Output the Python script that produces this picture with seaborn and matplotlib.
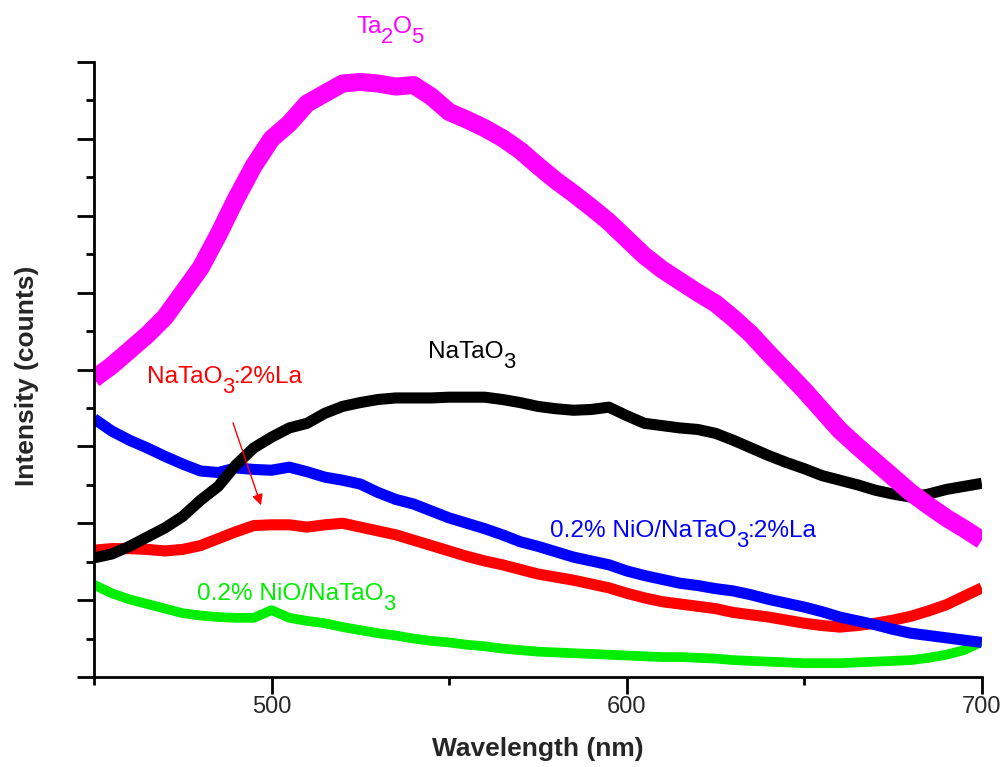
import numpy as np
import pandas as pd
import matplotlib
matplotlib.use("Agg")
import matplotlib.pyplot as plt
import matplotlib.transforms as mtransforms
import seaborn as sns
from matplotlib.ticker import MultipleLocator

# Photoluminescence spectra (arbitrary intensity units)
wavelength = list(range(450, 701, 5))

ta2o5 = [3.88, 4.05, 4.25, 4.45, 4.68, 5.00, 5.32, 5.75, 6.22, 6.65,
         7.00, 7.20, 7.46, 7.59, 7.72, 7.74, 7.72, 7.68, 7.70, 7.55,
         7.35, 7.25, 7.14, 7.01, 6.85, 6.65, 6.46, 6.29, 6.11, 5.92,
         5.70, 5.48, 5.30, 5.15, 5.00, 4.86, 4.67, 4.46, 4.21, 3.97,
         3.73, 3.47, 3.21, 3.00, 2.80, 2.60, 2.40, 2.23, 2.07, 1.93, 1.78]

natao3 = [1.55, 1.60, 1.70, 1.82, 1.94, 2.09, 2.30, 2.48, 2.76, 2.98,
          3.12, 3.24, 3.30, 3.43, 3.52, 3.57, 3.61, 3.63, 3.63, 3.63,
          3.64, 3.64, 3.64, 3.61, 3.57, 3.52, 3.49, 3.47, 3.48, 3.51,
          3.40, 3.30, 3.27, 3.24, 3.22, 3.17, 3.08, 2.98, 2.88, 2.79,
          2.71, 2.62, 2.56, 2.50, 2.43, 2.38, 2.34, 2.38, 2.44, 2.48, 2.52]

nio_natao3_la = [3.36, 3.20, 3.08, 2.98, 2.87, 2.77, 2.68, 2.66, 2.72, 2.70,
                 2.69, 2.73, 2.67, 2.60, 2.56, 2.51, 2.40, 2.31, 2.25, 2.16,
                 2.07, 2.00, 1.93, 1.85, 1.76, 1.70, 1.63, 1.56, 1.51, 1.46,
                 1.38, 1.32, 1.27, 1.22, 1.19, 1.15, 1.12, 1.07, 1.01, 0.96,
                 0.91, 0.85, 0.78, 0.73, 0.68, 0.62, 0.57, 0.54, 0.51, 0.48, 0.45]

natao3_la = [1.65, 1.67, 1.67, 1.66, 1.64, 1.66, 1.71, 1.80, 1.89, 1.97,
             1.98, 1.98, 1.95, 1.98, 2.00, 1.95, 1.90, 1.85, 1.78, 1.71,
             1.64, 1.57, 1.51, 1.46, 1.40, 1.34, 1.30, 1.26, 1.21, 1.16,
             1.09, 1.03, 0.98, 0.95, 0.92, 0.89, 0.84, 0.81, 0.78, 0.74,
             0.70, 0.67, 0.65, 0.67, 0.70, 0.74, 0.79, 0.86, 0.94, 1.05, 1.16]

nio_natao3 = [1.20, 1.09, 1.01, 0.95, 0.89, 0.83, 0.80, 0.78, 0.77, 0.77,
              0.87, 0.77, 0.73, 0.70, 0.65, 0.61, 0.57, 0.54, 0.50, 0.47,
              0.45, 0.42, 0.40, 0.37, 0.35, 0.33, 0.32, 0.31, 0.30, 0.29,
              0.28, 0.27, 0.26, 0.26, 0.25, 0.24, 0.22, 0.21, 0.20, 0.19,
              0.18, 0.18, 0.18, 0.19, 0.20, 0.21, 0.22, 0.25, 0.29, 0.35, 0.46]

xticks_major = [500, 600, 700]

sns.set_theme(style="ticks")
plt.rcParams["font.family"] = ["Liberation Sans", "DejaVu Sans"]

fig = plt.figure(figsize=(10.07, 7.67), dpi=100)
ax = fig.add_axes([0.0933, 0.1173, 0.8817, 0.8019])

# bottom-to-top drawing order
series = [
    (nio_natao3, "#00ee00", 7),
    (natao3_la, "#ff0000", 8),
    (nio_natao3_la, "#0000ff", 8),
    (natao3, "#000000", 8),
    (ta2o5, "#ff00ff", 13),
]
for values, color, lw in series:
    df = pd.DataFrame({"wl": wavelength, "I": values})
    sns.lineplot(data=df, x="wl", y="I", color=color, lw=lw, ax=ax,
                 solid_joinstyle="round", solid_capstyle="butt")

ax.set_xlim(450, 700)
ax.set_ylim(0, 8)
ax.set_xticks(xticks_major)
ax.xaxis.set_minor_locator(MultipleLocator(50))
ax.yaxis.set_major_locator(MultipleLocator(1))
ax.yaxis.set_minor_locator(MultipleLocator(0.5))
ax.set_yticklabels([])
ax.tick_params(which="major", length=12, width=2, direction="out",
               labelsize=17, pad=2, color="black")
ax.tick_params(which="minor", length=6, width=2, direction="out", color="black")
for side in ("top", "right"):
    ax.spines[side].set_visible(False)
for side in ("left", "bottom"):
    ax.spines[side].set_linewidth(2)
    ax.spines[side].set_color("black")

ax.set_xlabel("Wavelength (nm)", fontsize=19, fontweight="bold")
ax.set_ylabel("Intensity (counts)", fontsize=19, fontweight="bold")
ax.xaxis.set_label_coords(0.5, -0.117)
ax.xaxis.label.set_va("center")
ax.yaxis.set_label_coords(-0.0755, 0.49)
ax.yaxis.label.set_va("center")

renderer = fig.canvas.get_renderer()


def chem_label(x, y, parts, color, size=17.6, sub_scale=0.9, sub_drop=7.0):
    """Write a formula piece by piece, starting at (x, y) on the baseline;
    pieces flagged True are set as lowered subscripts."""
    dx = 0.0
    for s, sub in parts:
        fs = size * sub_scale if sub else size
        dy = -sub_drop if sub else 0.0
        tr = mtransforms.offset_copy(ax.transData, fig=fig, x=dx, y=dy, units="points")
        t = ax.text(x, y, s, color=color, fontsize=fs, ha="left", va="baseline",
                    transform=tr, clip_on=False)
        w = t.get_window_extent(renderer).width * 72.0 / fig.dpi
        dx += w - 0.3


chem_label(523.8, 8.377, [("Ta", False), ("2", True), ("O", False), ("5", True)], "#ff00ff")
chem_label(544.0, 4.150, [("NaTaO", False), ("3", True)], "black")
chem_label(464.9, 3.824, [("NaTaO", False), ("3", True), (":2%La", False)], "#ff0000")
chem_label(578.4, 1.821, [("0.2% NiO/NaTaO", False), ("3", True), (":2%La", False)], "#0000ff")
chem_label(479.0, 1.002, [("0.2% NiO/NaTaO", False), ("3", True)], "#00ee00")

ax.annotate("", xy=(497.3, 2.20), xytext=(488.9, 3.34),
            arrowprops=dict(arrowstyle="-|>", color="#ff0000", lw=1,
                            mutation_scale=16))

fig.savefig("out.png", dpi=100)
